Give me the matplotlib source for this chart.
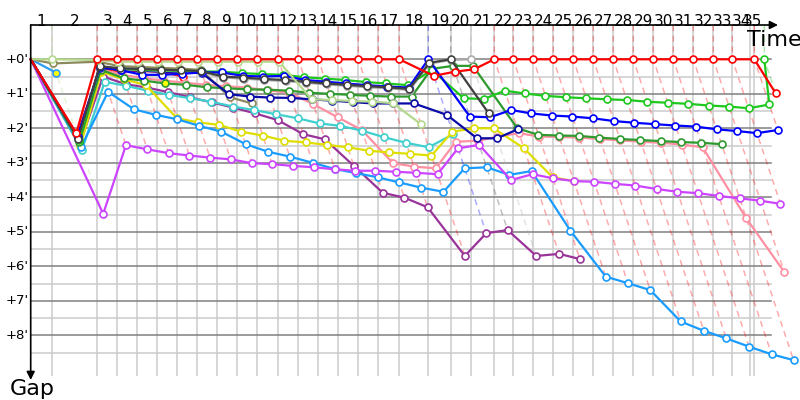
import matplotlib
matplotlib.use("Agg")
import matplotlib.pyplot as plt

# leader's cumulative race time (minutes) at the end of each lap (index = lap)
LAP_END_MIN = [0.0, 1.826, 5.791, 7.530, 9.270, 11.009, 12.748, 14.487, 16.226,
               17.965, 19.704, 21.530, 23.270, 25.009, 26.748, 28.487, 30.226,
               32.052, 34.574, 36.522, 38.261, 40.313, 41.965, 43.704, 45.443,
               47.183, 48.922, 50.661, 52.400, 54.139, 55.878, 57.617, 59.357,
               61.009, 62.922, 63.791]
EXTRA_GRID_MIN = [62.557]
LAP_LABELS = [str(i) for i in range(1, 36)]
GAP_TICKS = [0, 1, 2, 3, 4, 5, 6, 7, 8]
GAP_LABELS = ["+0'", "+1'", "+2'", "+3'", "+4'", "+5'", "+6'", "+7'", "+8'"]

# gap to the leader (minutes) at the end of each lap, index = lap (0 = start)
red = [0, 2.14, 0, 0, 0, 0, 0, 0, 0, 0, 0, 0, 0, 0, 0, 0, 0, 0, 0.48, 0.36, 0.29,
       0, 0, 0, 0, 0, 0, 0, 0, 0, 0, 0, 0, 0, 0, 0.98]
green = [0, 2.35, 0.22, 0.28, 0.30, 0.32, 0.33, 0.35, 0.36, 0.40, 0.43, 0.45, 0.52,
         0.56, 0.60, 0.66, 0.70, 0.75, 0.31, 1.13, 1.15, 0.91, 0.99, 1.06, 1.10, 1.13,
         1.16, 1.18, 1.23, 1.26, 1.29, 1.34, 1.37, 1.42, 1.31, 0]
blue = [0, 2.25, 0.22, 0.32, 0.45, 0.45, 0.42, 0.38, 0.38, 0.48, 0.50, 0.48, 0.60,
        0.65, 0.70, 0.75, 0.79, 0.82, 0, 1.66, 1.68, 1.47, 1.57, 1.63, 1.66, 1.71,
        1.79, 1.84, 1.88, 1.92, 1.95, 2.03, 2.08, 2.14, 2.05]
black = [0, 2.30, 0.20, 0.26, 0.28, 0.30, 0.32, 0.34, 0.50, 0.53, 0.57, 0.60, 0.65,
         0.70, 0.74, 0.78, 0.81, 0.86, 0.10, 0, 1.57]
grey = [0, 2.30, 0.22, 0.29, 0.31, 0.33, 0.35, 0.37, 0.53, 0.56, 0.60, 0.63, 0.68,
        0.73, 0.77, 0.81, 0.84, 0.89, 0.12, 0.02, 0]
lightgreen = [0, 0, 0.02, 0.07, 0.07, 0.07, 0.07, 0.07, 0.07, 0.07, 0.07, 0.07, 1.16,
              1.18, 1.21, 1.23, 1.27, 1.88]
khaki = [0, 0.12, 0.07, 0.20, 0.22, 0.25, 0.27, 0.31, 1.10, 1.28]
navy = [0, 2.25, 0.25, 0.30, 0.33, 0.36, 0.38, 0.40, 1.01, 1.08, 1.11, 1.12, 1.16,
        1.20, 1.24, 1.28, 1.28, 1.28, 1.61, 2.29, 2.29, 2.03]
darkgreen = [0, 2.40, 0.30, 0.55, 0.62, 0.70, 0.74, 0.81, 0.84, 0.87, 0.88, 0.91,
             0.97, 1.00, 1.03, 1.06, 1.08, 1.08, 0.28, 0.19, 0.19, 2.00, 2.19, 2.21,
             2.22, 2.27, 2.31, 2.34, 2.37, 2.40, 2.42, 2.46]
cyan = [0, 2.63, 0.65, 0.77, 0.91, 1.03, 1.13, 1.23, 1.37, 1.47, 1.59, 1.71, 1.86,
        1.93, 2.07, 2.26, 2.42, 2.55, 2.17]
skyblue = [0, 2.55, 0.94, 1.45, 1.61, 1.74, 1.93, 2.10, 2.46, 2.68, 2.82, 3.00, 3.18,
           3.30, 3.42, 3.57, 3.72, 3.84, 3.16, 3.13, 3.35, 3.24, 4.97, 6.30, 6.49,
           6.69, 7.60, 7.87, 8.09, 8.33, 8.55, 8.72]
violet = [0, 4.48, 2.49, 2.61, 2.72, 2.79, 2.85, 2.90, 3.01, 3.04, 3.09, 3.13, 3.19,
          3.23, 3.23, 3.26, 3.29, 3.33, 2.58, 2.48, 3.50, 3.33, 3.45, 3.53, 3.55,
          3.61, 3.66, 3.76, 3.84, 3.88, 3.96, 4.03, 4.10, 4.19]
plum = [0, 2.45, 0.50, 0.72, 0.82, 0.95, 1.10, 1.25, 1.40, 1.57, 1.76, 2.17, 2.32,
        3.09, 3.87, 4.01, 4.29, 5.70, 5.04, 4.95, 5.70, 5.64, 5.79]
yellow = [0, 2.50, 0.36, 0.58, 0.75, 1.71, 1.83, 1.90, 2.10, 2.21, 2.36, 2.41, 2.48,
          2.55, 2.65, 2.70, 2.74, 2.79, 2.10, 2.00, 2.00, 2.58, 3.42, 3.53]
pink = [0, 2.30, 0.30, 0.45, 0.55, 0.62, 0.68, 0.74, 0.78, 0.82, 0.90, 0.97, 1.30,
        1.68, 2.05, 3.01, 3.11, 3.16, 2.39, 2.36, 2.25, 2.14, 2.24, 2.25, 2.27, 2.31,
        2.35, 2.39, 2.42, 2.47, 2.55, 4.61, 6.16]
red2 = [0, 2.20, 0.26, 0.36, 0.34, 0.36, 0.50]
azure = [0, 0.39]

# laps drawn with a yellow-filled marker
yellow_laps = {"azure": [1], "red2": [3, 4, 5], "darkgreen": [5], "yellow": [1, 2, 3]}

series = [
    ("azure", azure, "#2a9df4"),
    ("red2", red2, "#ff1a1a"),
    ("khaki", khaki, "#8c8a5c"),
    ("plum", plum, "#993399"),
    ("pink", pink, "#ff8fa3"),
    ("cyan", cyan, "#3fcfcf"),
    ("yellow", yellow, "#dede00"),
    ("skyblue", skyblue, "#1a9cff"),
    ("violet", violet, "#cc44ff"),
    ("darkgreen", darkgreen, "#2e9a2e"),
    ("navy", navy, "#0a0aa8"),
    ("grey", grey, "#aaaaaa"),
    ("green", green, "#1ec81e"),
    ("blue", blue, "#0000ff"),
    ("black", black, "#404040"),
    ("lightgreen", lightgreen, "#b4d88c"),
    ("red", red, "#ff0000"),
]

PX_W, PX_H = 800, 400
X0_PX, Y_TOP_PX, Y_BOT_PX = 30.7, 25.0, 376.0
X_PER_MIN, Y_PER_MIN, Y0_PX = 11.5, 34.5, 59.3
xmax = (PX_W - X0_PX) / X_PER_MIN
ytop = (Y_TOP_PX - Y0_PX) / Y_PER_MIN
ybot = (Y_BOT_PX - Y0_PX) / Y_PER_MIN
grid_right = (770.7 - X0_PX) / X_PER_MIN

fig = plt.figure(figsize=(8, 4), dpi=100)
ax = fig.add_axes([X0_PX / PX_W, 1 - Y_BOT_PX / PX_H, 1 - X0_PX / PX_W,
                   (Y_BOT_PX - Y_TOP_PX) / PX_H])
ax.set_xlim(0, xmax)
ax.set_ylim(ybot, ytop)
ax.axis("off")

# grid
for g in GAP_TICKS:
    ax.plot([0, grid_right], [g, g], color="#808080", lw=1.1, zorder=1)
    ax.plot([0, grid_right], [g + 0.5, g + 0.5], color="#cccccc", lw=1.1, zorder=0.9)
for t in LAP_END_MIN[1:-1] + EXTRA_GRID_MIN:
    ax.plot([t, t], [ytop, ybot], color="#cccccc", lw=1.1, zorder=0.9)

# lap lines (coloured by the leader of that lap, down to the last car of that lap)
all_series = [(c, s) for _, s, c in series]
for k in range(1, len(LAP_END_MIN)):
    best = None
    worst = 0
    for c, s in all_series[::-1]:
        if k < len(s):
            worst = max(worst, s[k])
            if best is None or s[k] < best[1] - 1e-9:
                best = (c, s[k])
    t = LAP_END_MIN[k]
    ax.plot([t, t, t + worst], [ytop, 0, worst], color=best[0], alpha=0.33, lw=1.1,
            ls=(0, (4, 3)), zorder=1.5, clip_on=False)

# race lines
for name, s, c in series:
    xs = [LAP_END_MIN[k] + g for k, g in enumerate(s)]
    ax.plot(xs, s, color=c, lw=1.6, zorder=3, clip_on=False, solid_joinstyle="round")
    fills = ["#ffff00" if k in yellow_laps.get(name, []) else "white"
             for k in range(len(s))]
    for k in range(1, len(s)):
        ax.plot(xs[k], s[k], "o", ms=5, mfc=fills[k], mec=c, mew=1.2, zorder=3,
                clip_on=False)

# axes arrows
x_arrow_end = (778 - X0_PX) / X_PER_MIN
y_arrow_end = (380 - Y0_PX) / Y_PER_MIN
ax.annotate("", xy=(x_arrow_end, ytop), xytext=(0, ytop),
            arrowprops=dict(arrowstyle="-|>", color="black", lw=1.2,
                            mutation_scale=12, shrinkA=0, shrinkB=0),
            annotation_clip=False)
ax.annotate("", xy=(0, y_arrow_end), xytext=(0, ytop),
            arrowprops=dict(arrowstyle="-|>", color="black", lw=1.2,
                            mutation_scale=12, shrinkA=0, shrinkB=0),
            annotation_clip=False)

# lap labels
for k, lab in enumerate(LAP_LABELS, start=1):
    xc = (LAP_END_MIN[k - 1] + LAP_END_MIN[k]) / 2
    if k == 34:
        xc = (LAP_END_MIN[33] + EXTRA_GRID_MIN[0]) / 2
    if k == 35:
        xc = (EXTRA_GRID_MIN[0] + LAP_END_MIN[34]) / 2
    ax.text(xc, (21.5 - Y0_PX) / Y_PER_MIN, lab, ha="center", va="center",
            fontsize=11, color="black", clip_on=False)

for g, lab in zip(GAP_TICKS, GAP_LABELS):
    ax.text(-(2.0 / X_PER_MIN), g, lab, ha="right", va="center", fontsize=9.5,
            clip_on=False)

ax.text((774 - X0_PX) / X_PER_MIN, (40 - Y0_PX) / Y_PER_MIN, "Time", ha="center",
        va="center", fontsize=16, clip_on=False)
ax.text((32 - X0_PX) / X_PER_MIN, (389 - Y0_PX) / Y_PER_MIN, "Gap", ha="center",
        va="center", fontsize=16, clip_on=False)

fig.savefig("out.png", dpi=100)
